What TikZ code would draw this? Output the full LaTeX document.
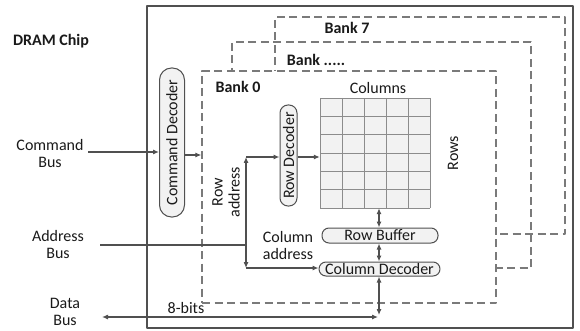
\documentclass[tikz,border=0pt]{standalone}
\usepackage{fontspec}
\setmainfont{Carlito}
\usetikzlibrary{arrows.meta}
\definecolor{ln}{HTML}{505050}
\definecolor{dsh}{HTML}{7a7a7a}
\definecolor{txt}{HTML}{1a1a1a}
\begin{document}
\begin{tikzpicture}[x=1pt,y=-1pt,line join=round,
  font={\fontsize{16}{17}\selectfont},
  conn/.style={draw=ln,line width=1.1pt},
  arr/.style={-{Latex[length=6pt,width=5pt]}},
  both/.style={{Latex[length=6pt,width=5pt]}-{Latex[length=6pt,width=5pt]}},
  rbox/.style={draw=ln,line width=1pt,fill=black!5,inner sep=0pt,text=txt},
  bankbox/.style={draw=dsh,line width=1.3pt,dash pattern=on 8pt off 4.5pt,inner sep=0pt},
  lbl/.style={text=txt,inner sep=0pt},
  gridln/.style={draw=black!45,line width=0.8pt}]
\useasboundingbox (0,0) rectangle (580,331);
% chip
\node[draw=ln,line width=1.6pt,minimum width=426pt,minimum height=322pt,inner sep=0pt] (chip) at (360,167) {};
% banks
\node[bankbox,minimum width=290pt,minimum height=217pt] (bank7) at (420,125.5) {};
\node[bankbox,minimum width=299pt,minimum height=226pt] (bankm) at (381.5,155) {};
\node[bankbox,fill=white,minimum width=294pt,minimum height=232pt] (bank0) at (349,187) {};
% labels
\node[lbl] (dram) at (51,41) {\bfseries DRAM Chip};
\node[lbl] (b7lbl) at (347,28) {\bfseries Bank 7};
\node[lbl] (bmlbl) at (316,60) {\bfseries Bank .....};
\node[lbl] (b0lbl) at (238,87) {\bfseries Bank 0};
\node[lbl] (collbl) at (378,88) {Columns};
\node[lbl,rotate=90] (rowslbl) at (453,153) {Rows};
\node[lbl,rotate=90,align=center] (rowaddr) at (226,192) {Row\\address};
\node[lbl,align=center] (coladdr) at (288,246) {Column\\address};
\node[lbl,align=center] (cmdbus) at (50,154) {Command\\Bus};
\node[lbl,align=center] (addrbus) at (58,245) {Address\\Bus};
\node[lbl,align=center] (databus) at (65,312) {Data\\Bus};
\node[lbl] (eightbits) at (186,308) {8-bits};
% boxes
\node[rbox,rounded corners=12pt,minimum width=25pt,minimum height=149pt] (cmddec) at (172,142.5) {\rotatebox{90}{Command Decoder}};
\node[rbox,rounded corners=8pt,minimum width=17pt,minimum height=101pt] (rowdec) at (288.5,155.5) {\rotatebox{90}{Row Decoder}};
\node[rbox,rounded corners=7pt,minimum width=116pt,minimum height=15pt] (rowbuf) at (380,235.5) {Row Buffer};
\node[rbox,rounded corners=7pt,minimum width=121pt,minimum height=14pt] (coldec) at (379.5,269) {Column Decoder};
% grid
\node[draw=none,minimum width=110pt,minimum height=110pt,inner sep=0pt] (grid) at (375,153) {};
\fill[black!5] (grid.north west) rectangle (grid.south east);
\foreach \i in {0,...,5} \draw[gridln] (320+22*\i,98) -- (320+22*\i,208);
\foreach \j in {0,...,6} \draw[gridln] (320,98+110/6*\j) -- (430,98+110/6*\j);
% coordinates
\coordinate (cmdin) at (88,152);
\coordinate (yc) at (0,155);
\coordinate (addrin) at (100,245);
\coordinate (aj) at (246,245);
\coordinate (rat) at (246,157);
\coordinate (rab) at (246,268);
\coordinate (vx) at (379,0);
\coordinate (dv) at (379,315);
\coordinate (dh) at (378,317);
\coordinate (dl) at (102,317);
% connectors
\draw[conn,arr] (cmdin) -- (cmdin -| cmddec.west);
\draw[conn,arr] (cmddec.east |- yc) -- (yc -| bank0.west);
\draw[conn] (addrin) -- (aj);
\draw[conn,both] (rat) -- (rab);
\draw[conn,arr] (rat) -- (rat -| rowdec.west);
\draw[conn,arr] (rab) -- (rab -| coldec.west);
\draw[conn,arr] (rowdec.east |- rat) -- (rat -| grid.west);
\draw[conn,both] (vx |- grid.south) -- (vx |- rowbuf.north);
\draw[conn,both] (vx |- rowbuf.south) -- (vx |- coldec.north);
\draw[conn,both] (vx |- coldec.south) -- (dv);
\draw[conn,both] (dl) -- (dh);
\end{tikzpicture}
\end{document}
